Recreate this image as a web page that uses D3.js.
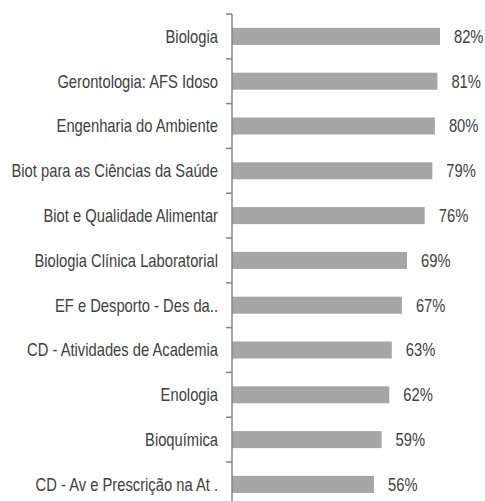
<!DOCTYPE html>
<html>
<head>
<meta charset="utf-8">
<script src="https://cdn.jsdelivr.net/npm/d3@7"></script>
<style>
  html, body { margin: 0; padding: 0; background: #fff; }
  .chart text { font-family: "Liberation Sans", Arial, sans-serif; font-size: 18px; fill: #404040; }
</style>
</head>
<body>
<div class="chart"></div>
<script>
var categories = [
  'Biologia',
  'Gerontologia: AFS Idoso',
  'Engenharia do Ambiente',
  'Biot para as Ciências da Saúde',
  'Biot e Qualidade Alimentar',
  'Biologia Clínica Laboratorial',
  'EF e Desporto - Des da..',
  'CD - Atividades de Academia',
  'Enologia',
  'Bioquímica',
  'CD - Av e Prescrição na At .'
];
var values = [0.82, 0.81, 0.80, 0.79, 0.76, 0.69, 0.67, 0.63, 0.62, 0.59, 0.56];

var width = 485,
    height = 501,
    axisX = 232,
    plotTop = 14,
    rowH = 44.8,
    narrow = 0.82; // squeeze text like an Arial Narrow face

var svg = d3.select('.chart')
            .append('svg')
            .attr('width', width)
            .attr('height', height);

var x = d3.scaleLinear()
          .domain([0, 1])
          .range([axisX, axisX + 253.6]);

var y = d3.scaleBand()
          .domain(categories)
          .range([plotTop, plotTop + rowH * categories.length])
          .paddingInner(0.62)
          .paddingOuter(0.31);

function place(px, py) {
  return 'translate(' + px + ',' + py + ') scale(' + narrow + ',1)';
}

// bars
svg.selectAll('rect.bar')
   .data(values)
   .enter().append('rect')
   .attr('class', 'bar')
   .attr('fill', '#A6A6A6')
   .attr('x', x(0))
   .attr('y', function(d, i) { return y(categories[i]); })
   .attr('width', function(d) { return x(d) - x(0); })
   .attr('height', y.bandwidth());

// value labels
svg.selectAll('text.val')
   .data(values)
   .enter().append('text')
   .attr('class', 'val')
   .attr('transform', function(d, i) { return place(x(d) + 14, y(categories[i]) + y.bandwidth() / 2); })
   .attr('dy', '0.35em')
   .text(function(d) { return Math.round(d * 100) + '%'; });

// category axis: line + ticks between categories
var yAxis = svg.append('g');

yAxis.append('line')
     .attr('x1', axisX).attr('x2', axisX)
     .attr('y1', plotTop).attr('y2', plotTop + rowH * categories.length)
     .attr('stroke', '#868686')
     .attr('stroke-width', 1.5);

yAxis.selectAll('line.tick')
     .data(d3.range(categories.length + 1))
     .enter().append('line')
     .attr('class', 'tick')
     .attr('x1', axisX - 6).attr('x2', axisX)
     .attr('y1', function(k) { return plotTop + k * y.step(); })
     .attr('y2', function(k) { return plotTop + k * y.step(); })
     .attr('stroke', '#868686')
     .attr('stroke-width', 1.5);

yAxis.selectAll('text.cat')
     .data(categories)
     .enter().append('text')
     .attr('class', 'cat')
     .attr('text-anchor', 'end')
     .attr('transform', function(d) { return place(axisX - 14, y(d) + y.bandwidth() / 2); })
     .attr('dy', '0.35em')
     .text(function(d) { return d; });
</script>
</body>
</html>
